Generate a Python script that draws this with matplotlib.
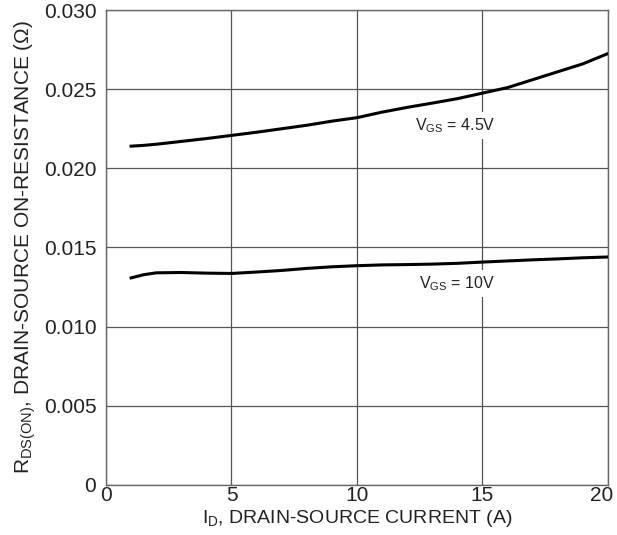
import matplotlib
matplotlib.use("Agg")
import matplotlib.pyplot as plt
from matplotlib.transforms import ScaledTranslation

plt.rcParams['font.family'] = ['Liberation Sans', 'DejaVu Sans']
plt.rcParams['mathtext.fontset'] = 'custom'
plt.rcParams['mathtext.rm'] = 'Liberation Sans'
plt.rcParams['mathtext.it'] = 'Liberation Sans'

# drain current (A)
current = [1, 1.5, 2, 3, 4, 5, 6, 7, 8, 9, 10, 11, 12, 13, 14, 15, 16, 17, 18, 19, 20]
# R_DS(on) at VGS = 4.5V (ohm)
r_45 = [0.02140, 0.02145, 0.02152, 0.02170, 0.02188, 0.02208, 0.02228, 0.02250,
        0.02272, 0.02298, 0.02320, 0.02355, 0.02385, 0.02412, 0.02440, 0.02475,
        0.02510, 0.02560, 0.02610, 0.02660, 0.02725]
# R_DS(on) at VGS = 10V (ohm)
r_10 = [0.01308, 0.01328, 0.01340, 0.01342, 0.01338, 0.01336, 0.01345, 0.01355,
        0.01368, 0.01378, 0.01385, 0.01390, 0.01392, 0.01395, 0.01400, 0.01408,
        0.01415, 0.01422, 0.01428, 0.01435, 0.01440]

fig = plt.figure(figsize=(6.17, 5.35), dpi=100)
ax = fig.add_axes([0.1718, 0.0935, 0.8136, 0.8878])

ax.plot(current, r_45, color='black', linewidth=2.2, zorder=3)
ax.plot(current, r_10, color='black', linewidth=2.2, zorder=3)

ax.set_xlim(0, 20)
ax.set_ylim(0, 0.030)
ax.set_xticks([0, 5, 10, 15, 20])
ax.set_yticks([0, 0.005, 0.010, 0.015, 0.020, 0.025, 0.030])
ax.set_yticklabels(['0', '0.005', '0.010', '0.015', '0.020', '0.025', '0.030'])
ax.tick_params(length=0, labelsize=15, colors='#222222')
ax.tick_params(axis='y', pad=7)
ax.tick_params(axis='x', pad=1)

# last x label sits a bit left so it stays inside the figure
fig.canvas.draw()
last = ax.get_xticklabels()[-1]
last.set_horizontalalignment('right')
last.set_transform(last.get_transform() + ScaledTranslation(5 / 100, 0, fig.dpi_scale_trans))

ax.grid(True, color='#555555', linewidth=0.9)
for sp in ax.spines.values():
    sp.set_color('#666666')
    sp.set_linewidth(1.0)

ax.text(13.9, 0.0227, r'V$_{\mathregular{GS}}$ = 4.5V', ha='center', va='center',
        fontsize=11.5, color='#222222', zorder=4,
        bbox=dict(facecolor='white', edgecolor='none', pad=3))
ax.text(14.0, 0.0127, r'V$_{\mathregular{GS}}$ = 10V', ha='center', va='center',
        fontsize=11.5, color='#222222', zorder=4,
        bbox=dict(facecolor='white', edgecolor='none', pad=3))

ax.set_xlabel(r'I$_{\mathregular{D}}$, DRAIN-SOURCE CURRENT (A)', fontsize=14,
              color='#222222', labelpad=2)
ax.set_ylabel(r'R$_{\mathregular{DS(ON)}}$, DRAIN-SOURCE ON-RESISTANCE (Ω)', fontsize=15,
              color='#222222', labelpad=4)

plt.savefig('out.png', dpi=100)
